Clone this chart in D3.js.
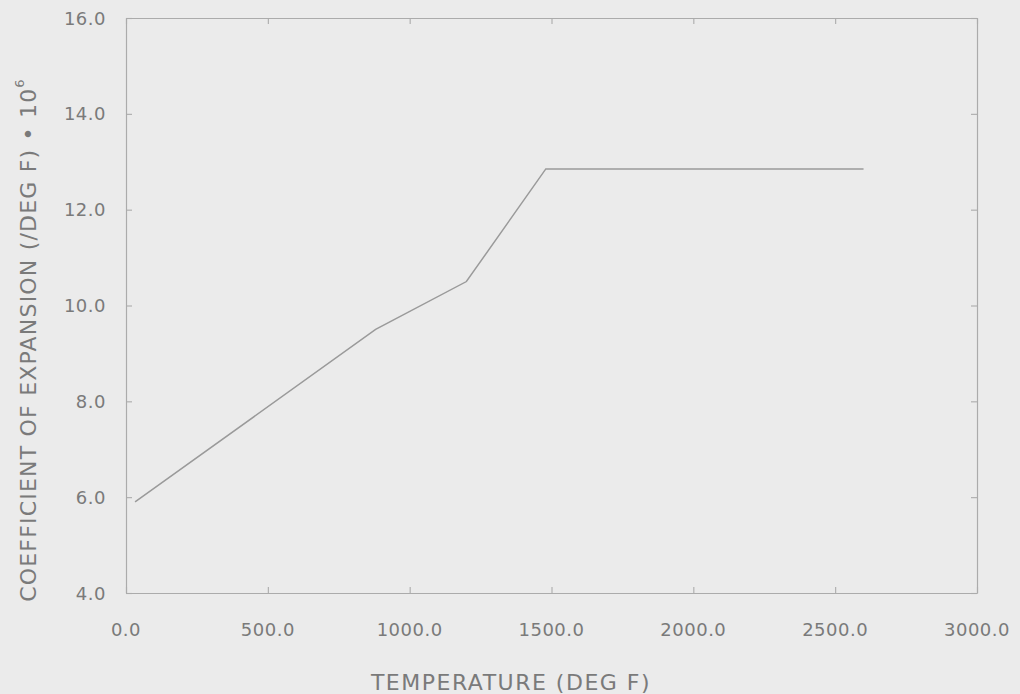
<!DOCTYPE html>
<html>
<head>
<meta charset="utf-8">
<script src="https://cdn.jsdelivr.net/npm/d3@7"></script>
<style>
  body { margin: 0; background: #ebebeb; }
  svg { display: block; }
  text { font-family: "DejaVu Sans", sans-serif; fill: #7a7a7a; }
</style>
</head>
<body>
<svg id="chart" width="1020" height="694"></svg>
<script>
// temperature (deg F) and coefficient of expansion * 10^6
var temps = [32, 880, 1200, 1480, 2600];
var coeffs = [5.9, 9.5, 10.5, 12.85, 12.85];
var xTicks = [0, 500, 1000, 1500, 2000, 2500, 3000];
var yTicks = [4, 6, 8, 10, 12, 14, 16];

var svg = d3.select("#chart");
var plotLeft = 126, plotRight = 977, plotTop = 18, plotBottom = 593;
var axisColor = "#ababab";

var x = d3.scaleLinear().domain([0, 3000]).range([plotLeft, plotRight]);
var y = d3.scaleLinear().domain([4, 16]).range([plotBottom, plotTop]);

svg.append("rect")
  .attr("width", 1020).attr("height", 694)
  .attr("fill", "#ebebeb");

// frame with inward ticks on all four sides
function styleAxis(g) {
  g.select(".domain").attr("stroke", axisColor).attr("stroke-width", 1.2);
  g.selectAll(".tick line").attr("stroke", axisColor).attr("stroke-width", 1.1);
}

svg.append("g")
  .attr("transform", "translate(0," + plotBottom + ")")
  .call(d3.axisBottom(x).tickValues(xTicks).tickSizeInner(-6).tickSizeOuter(0).tickFormat(""))
  .call(styleAxis);
svg.append("g")
  .attr("transform", "translate(0," + plotTop + ")")
  .call(d3.axisTop(x).tickValues(xTicks).tickSizeInner(-6).tickSizeOuter(0).tickFormat(""))
  .call(styleAxis);
svg.append("g")
  .attr("transform", "translate(" + plotLeft + ",0)")
  .call(d3.axisLeft(y).tickValues(yTicks).tickSizeInner(-6).tickSizeOuter(0).tickFormat(""))
  .call(styleAxis);
svg.append("g")
  .attr("transform", "translate(" + plotRight + ",0)")
  .call(d3.axisRight(y).tickValues(yTicks).tickSizeInner(-6).tickSizeOuter(0).tickFormat(""))
  .call(styleAxis);

// tick labels
svg.selectAll(".xlab")
  .data(xTicks)
  .enter()
  .append("text")
  .attr("class", "xlab")
  .attr("x", function(d) { return x(d); })
  .attr("y", 629)
  .attr("text-anchor", "middle")
  .attr("dominant-baseline", "central")
  .attr("font-size", 18)
  .attr("letter-spacing", 0.5)
  .text(function(d) { return d3.format(".1f")(d); });

svg.selectAll(".ylab")
  .data(yTicks)
  .enter()
  .append("text")
  .attr("class", "ylab")
  .attr("x", 106)
  .attr("y", function(d) { return y(d); })
  .attr("text-anchor", "end")
  .attr("dominant-baseline", "central")
  .attr("font-size", 18)
  .attr("letter-spacing", 0.5)
  .text(function(d) { return d3.format(".1f")(d); });

// axis titles
svg.append("text")
  .attr("x", 511)
  .attr("y", 682)
  .attr("text-anchor", "middle")
  .attr("dominant-baseline", "central")
  .attr("font-size", 22)
  .attr("letter-spacing", 1.5)
  .text("TEMPERATURE (DEG F)");

var yt = svg.append("text")
  .attr("transform", "translate(28,340) rotate(-90)")
  .attr("text-anchor", "middle")
  .attr("dominant-baseline", "central")
  .attr("font-size", 22)
  .attr("letter-spacing", 1.2);
yt.append("tspan").text("COEFFICIENT OF EXPANSION (/DEG F) \u2022 10");
yt.append("tspan").attr("font-size", 13).attr("dy", -9).text("6");

// data line
var pts = temps.map(function(t, i) { return [t, coeffs[i]]; });
var line = d3.line()
  .x(function(d) { return x(d[0]); })
  .y(function(d) { return y(d[1]); });

svg.append("path")
  .datum(pts)
  .attr("d", line)
  .attr("fill", "none")
  .attr("stroke", "#9a9a9a")
  .attr("stroke-width", 1.5);
</script>
</body>
</html>
